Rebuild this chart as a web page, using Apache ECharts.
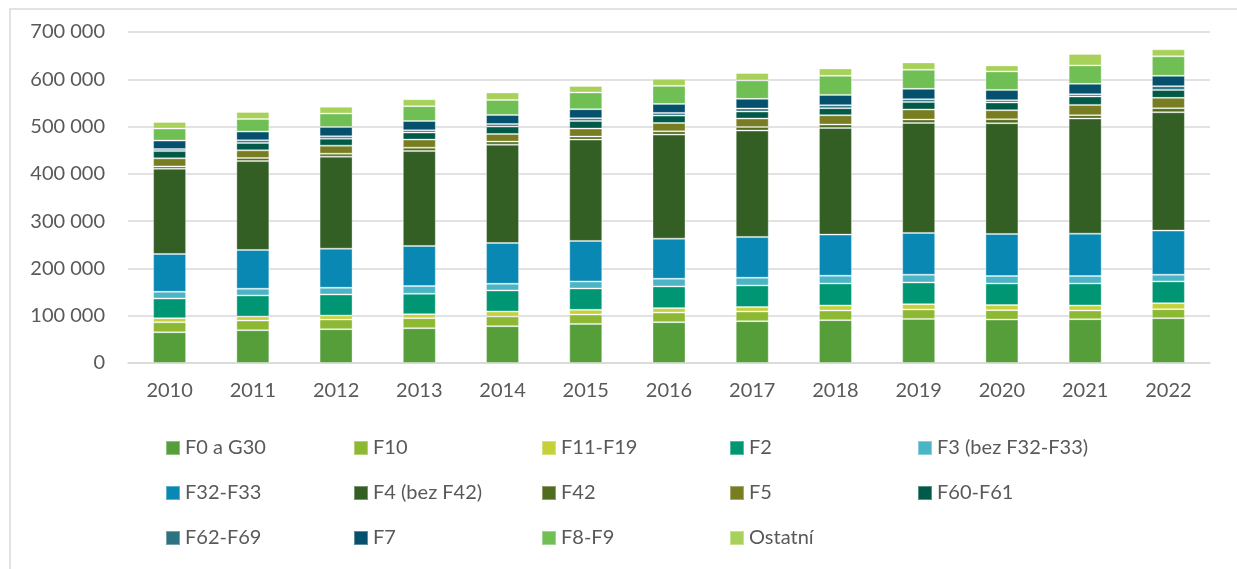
<!DOCTYPE html>
<html>
<head>
    <meta charset="utf-8">
    <title>Pacienti podle diagnóz</title>
    <script src="https://cdn.jsdelivr.net/npm/echarts@6/dist/echarts.min.js"></script>
    <style>
        html, body {
            margin: 0;
            padding: 0;
            background: #ffffff;
        }
        #chart {
            width: 1237px;
            height: 569px;
        }
    </style>
</head>
<body>
<div id="chart"></div>
<script>
    // roky
    var years = ['2010', '2011', '2012', '2013', '2014', '2015', '2016', '2017', '2018', '2019', '2020', '2021', '2022'];

    // počty podle skupin diagnóz
    var f0 = [65100, 69400, 71500, 73600, 77900, 82700, 86300, 88500, 90600, 93300, 91900, 92700, 94800];
    var f10 = [21200, 20300, 20400, 21200, 20300, 19800, 20400, 20300, 20300, 19800, 19900, 18200, 19100];
    var f11 = [8500, 8500, 8400, 8500, 10600, 9900, 9300, 9400, 10700, 11400, 10600, 10700, 12700];
    var f2 = [41600, 44600, 44600, 43100, 44600, 45200, 45900, 45800, 46600, 45800, 45800, 46600, 45900];
    var f3 = [14200, 14200, 14200, 16300, 14200, 14900, 16300, 16300, 16400, 16400, 15700, 15700, 14200];
    var f32 = [80000, 82100, 82700, 84900, 86300, 85700, 84800, 86400, 86900, 88400, 89100, 89700, 93300];
    var f4 = [180300, 187900, 194600, 200600, 207900, 214200, 220000, 224800, 225500, 232500, 234000, 243400, 250300];
    var f42 = [4900, 6400, 6300, 7200, 6400, 6400, 7000, 7700, 7300, 7200, 8500, 7000, 8500];
    var f5 = [17000, 16300, 17000, 17000, 16100, 17000, 17600, 17800, 19700, 21300, 19100, 21800, 21900];
    var f60 = [15400, 15500, 14800, 14900, 15700, 16100, 15700, 14800, 14800, 16100, 16300, 17800, 16900];
    var f62 = [4300, 5700, 4900, 4900, 5500, 5700, 5600, 6400, 6400, 5700, 4900, 4900, 7900];
    var f7 = [17800, 18500, 19700, 19700, 19100, 19100, 19000, 20400, 21800, 21900, 21800, 21900, 21800];
    var f8 = [25500, 26700, 28500, 31200, 31800, 35400, 38200, 39000, 40300, 40300, 39100, 39000, 41200];
    var ostatni = [14000, 14900, 14400, 14800, 15700, 13900, 14900, 15500, 15700, 15600, 12700, 24000, 14800];

    var names = ['F0 a G30', 'F10', 'F11-F19', 'F2', 'F3 (bez F32-F33)', 'F32-F33', 'F4 (bez F42)',
        'F42', 'F5', 'F60-F61', 'F62-F69', 'F7', 'F8-F9', 'Ostatní'];
    var values = [f0, f10, f11, f2, f3, f32, f4, f42, f5, f60, f62, f7, f8, ostatni];
    var colors = ['#559e3a', '#8cb833', '#c5d138', '#009673', '#4bb5c5', '#0a88b4', '#335e24',
        '#506c1f', '#777d20', '#015a47', '#2c7280', '#05506d', '#6fbf54', '#a7d158'];

    var font = 'Lato, "Open Sans", sans-serif';

    var series = [];
    for (var i = 0; i < names.length; i++) {
        series.push({
            name: names[i],
            type: 'bar',
            stack: 'celkem',
            barWidth: 33,
            data: values[i],
            itemStyle: {
                color: colors[i],
                borderColor: 'rgba(255,255,255,0.35)',
                borderWidth: 1
            }
        });
    }

    var chart = echarts.init(document.getElementById('chart'), null, {renderer: 'canvas'});

    var option = {
        animation: false,
        color: colors,
        textStyle: {
            fontFamily: font
        },
        graphic: [{
            type: 'rect',
            shape: {x: 10, y: 9, width: 1240, height: 575},
            style: {fill: 'none', stroke: '#d9d9d9', lineWidth: 1.5},
            silent: true
        }],
        grid: {
            left: 128,
            right: 27,
            top: 32,
            bottom: 206
        },
        legend: {
            left: 165,
            top: 438,
            width: 935,
            padding: 0,
            itemWidth: 14,
            itemHeight: 14,
            itemGap: 25,
            icon: 'rect',
            data: names,
            textStyle: {
                fontFamily: font,
                fontSize: 20,
                color: '#595959',
                width: 143,
                lineHeight: 20
            }
        },
        xAxis: {
            type: 'category',
            data: years,
            axisLine: {lineStyle: {color: '#d9d9d9', width: 1.5}},
            axisTick: {show: false},
            axisLabel: {
                fontFamily: font,
                fontSize: 20,
                color: '#595959',
                margin: 18
            }
        },
        yAxis: {
            type: 'value',
            min: 0,
            max: 700000,
            interval: 100000,
            axisLine: {show: false},
            axisTick: {show: false},
            splitLine: {lineStyle: {color: '#d9d9d9', width: 1.5}},
            axisLabel: {
                fontFamily: font,
                fontSize: 20,
                color: '#595959',
                margin: 23,
                formatter: function (v) {
                    return String(v).replace(/\B(?=(\d{3})+(?!\d))/g, ' ');
                }
            }
        },
        series: series
    };
    chart.setOption(option);
</script>
</body>
</html>
